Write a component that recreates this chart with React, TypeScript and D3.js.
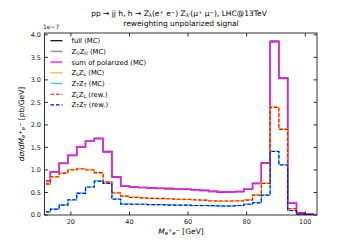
import * as d3 from "d3";

const EDGES = [11.5, 13, 16, 19, 22, 25, 28, 31, 34, 37, 40, 43, 46, 49, 52, 55, 58, 61, 64, 67, 70, 73, 76, 79, 82, 85, 88, 91, 94, 97, 100, 103];

const FULL = [0.75, 0.96, 1.15, 1.32, 1.51, 1.65, 1.7, 1.4, 0.84, 0.64, 0.62, 0.61, 0.6, 0.59, 0.58, 0.58, 0.57, 0.56, 0.54, 0.52, 0.51, 0.51, 0.52, 0.57, 0.7, 1.16, 3.86, 3.05, 0.27, 0.05, 0.02];
const UNPOL = [0.74, 0.95, 1.15, 1.33, 1.52, 1.65, 1.7, 1.41, 0.85, 0.65, 0.62, 0.61, 0.6, 0.59, 0.59, 0.58, 0.57, 0.56, 0.55, 0.53, 0.52, 0.51, 0.52, 0.57, 0.7, 1.15, 3.85, 3.04, 0.27, 0.05, 0.02];
const SUM_POL = [0.76, 0.96, 1.14, 1.33, 1.51, 1.64, 1.69, 1.41, 0.85, 0.64, 0.62, 0.61, 0.6, 0.59, 0.59, 0.58, 0.57, 0.56, 0.55, 0.53, 0.51, 0.51, 0.52, 0.57, 0.7, 1.15, 3.84, 3.03, 0.26, 0.05, 0.02];
const LL_MC = [0.68, 0.84, 0.93, 1.01, 1.03, 1.01, 0.93, 0.74, 0.5, 0.42, 0.4, 0.38, 0.37, 0.36, 0.36, 0.35, 0.34, 0.33, 0.33, 0.32, 0.31, 0.31, 0.32, 0.34, 0.45, 0.71, 2.4, 1.91, 0.14, 0.03, 0.01];
const TT_MC = [0.07, 0.13, 0.23, 0.33, 0.49, 0.62, 0.76, 0.71, 0.36, 0.25, 0.24, 0.24, 0.23, 0.23, 0.23, 0.22, 0.22, 0.21, 0.21, 0.2, 0.2, 0.2, 0.21, 0.24, 0.28, 0.45, 1.42, 1.12, 0.1, 0.02, 0.01];
const LL_REW = [0.69, 0.85, 0.93, 1.0, 1.02, 1.0, 0.94, 0.73, 0.49, 0.42, 0.39, 0.38, 0.37, 0.37, 0.36, 0.35, 0.35, 0.34, 0.33, 0.31, 0.31, 0.31, 0.31, 0.33, 0.44, 0.7, 2.39, 1.9, 0.14, 0.03, 0.01];
const TT_REW = [0.07, 0.13, 0.22, 0.34, 0.48, 0.62, 0.75, 0.7, 0.35, 0.24, 0.24, 0.24, 0.23, 0.23, 0.22, 0.22, 0.22, 0.21, 0.21, 0.21, 0.2, 0.2, 0.21, 0.24, 0.27, 0.44, 1.41, 1.11, 0.1, 0.02, 0.01];

const X_TICKS = [20, 40, 60, 80, 100];
const Y_TICKS = [0, 0.5, 1, 1.5, 2, 2.5, 3, 3.5, 4];

type Seg = { t: string; sub?: boolean; sup?: boolean; it?: boolean };

const SERIES: { name: Seg[]; values: number[]; color: string; width: number; dash?: string; opacity?: number }[] = [
  { name: [{ t: "full (MC)" }], values: FULL, color: "#000", width: 1.2 },
  { name: [{ t: "Z" }, { t: "U", sub: true }, { t: "Z" }, { t: "U", sub: true }, { t: " (MC)" }], values: UNPOL, color: "#999", width: 1.6 },
  { name: [{ t: "sum of polarized (MC)" }], values: SUM_POL, color: "#ff00ff", width: 1.4, opacity: 0.9 },
  { name: [{ t: "Z" }, { t: "L", sub: true }, { t: "Z" }, { t: "L", sub: true }, { t: " (MC)" }], values: LL_MC, color: "#ffa500", width: 1.3, opacity: 0.8 },
  { name: [{ t: "Z" }, { t: "T", sub: true }, { t: "Z" }, { t: "T", sub: true }, { t: " (MC)" }], values: TT_MC, color: "#00bfff", width: 1.3, opacity: 0.8 },
  { name: [{ t: "Z" }, { t: "L", sub: true }, { t: "Z" }, { t: "L", sub: true }, { t: " (rew.)" }], values: LL_REW, color: "#ff0000", width: 1.1, dash: "3.5,2" },
  { name: [{ t: "Z" }, { t: "T", sub: true }, { t: "Z" }, { t: "T", sub: true }, { t: " (rew.)" }], values: TT_REW, color: "#0000ff", width: 1.1, dash: "3.5,2" },
];

const FONT = "DejaVu Sans, sans-serif";

function MathText({ segs, size }: { segs: Seg[]; size: number }) {
  return (
    <>
      {segs.map((s, i) => (
        <tspan
          key={i}
          fontSize={s.sub || s.sup ? size * 0.7 : size}
          fontStyle={s.it ? "italic" : "normal"}
          baselineShift={s.sub ? "-25%" : s.sup ? "45%" : undefined}
        >
          {s.t}
        </tspan>
      ))}
    </>
  );
}

export default function App() {
  const W = 352, H = 242;
  const left = 44.5, right = 317, top = 33, bottom = 215;
  const x = d3.scaleLinear().domain([11, 104]).range([left, right]);
  const y = d3.scaleLinear().domain([0, 4.04]).range([bottom, top]);

  const line = d3
    .line<[number, number]>()
    .x((d) => x(d[0]))
    .y((d) => y(d[1]))
    .curve(d3.curveStepAfter);

  const stepPath = (vals: number[]) => {
    const pts: [number, number][] = vals.map((v, i) => [EDGES[i], v]);
    pts.push([EDGES[EDGES.length - 1], vals[vals.length - 1]]);
    return line(pts) ?? "";
  };

  const tick = 3.5;
  const legX = 50.5, legY = 40.7, legStep = 10.7;

  return (
    <div style={{ position: "absolute", left: 0, top: 0 }}>
      <svg width={W} height={H} style={{ display: "block", background: "#fff" }} fontFamily={FONT}>
        <defs>
          <clipPath id="plot">
            <rect x={left} y={top} width={right - left} height={bottom - top} />
          </clipPath>
        </defs>

        <g clipPath="url(#plot)">
          {SERIES.map((s, i) => (
            <path
              key={i}
              d={stepPath(s.values)}
              fill="none"
              stroke={s.color}
              strokeWidth={s.width}
              strokeDasharray={s.dash}
              strokeOpacity={s.opacity ?? 1}
            />
          ))}
        </g>

        {/* frame */}
        <rect x={left} y={top} width={right - left} height={bottom - top} fill="none" stroke="#000" strokeWidth={0.8} />

        {X_TICKS.map((t) => (
          <g key={t}>
            <line x1={x(t)} x2={x(t)} y1={bottom} y2={bottom - tick} stroke="#000" strokeWidth={0.8} />
            <line x1={x(t)} x2={x(t)} y1={top} y2={top + tick} stroke="#000" strokeWidth={0.8} />
            <text x={x(t)} y={224} textAnchor="middle" fontSize={6.5} fill="#222">
              {t}
            </text>
          </g>
        ))}
        {Y_TICKS.map((t) => (
          <g key={t}>
            <line x1={left} x2={left + tick} y1={y(t)} y2={y(t)} stroke="#000" strokeWidth={0.8} />
            <line x1={right} x2={right - tick} y1={y(t)} y2={y(t)} stroke="#000" strokeWidth={0.8} />
            <text x={41} y={y(t) + 2.3} textAnchor="end" fontSize={6.5} fill="#222">
              {t.toFixed(1)}
            </text>
          </g>
        ))}
        <text x={43} y={29} fontSize={6} fill="#222">
          1e−7
        </text>

        {/* titles */}
        <text x={179} y={16} textAnchor="middle" fontSize={7.5} fill="#000">
          <MathText
            size={7.5}
            segs={[
              { t: "pp → jj h, h → Z" },
              { t: "λ", sub: true },
              { t: "(e" },
              { t: "+", sup: true },
              { t: " e" },
              { t: "−", sup: true },
              { t: ") Z" },
              { t: "λ'", sub: true },
              { t: "(μ" },
              { t: "+", sup: true },
              { t: " μ" },
              { t: "−", sup: true },
              { t: "), LHC@13TeV" },
            ]}
          />
        </text>
        <text x={181} y={26} textAnchor="middle" fontSize={7.5} fill="#000">
          reweighting unpolarized signal
        </text>

        {/* axis labels */}
        <text x={181} y={234} textAnchor="middle" fontSize={7.5} fill="#000">
          <MathText
            size={7.5}
            segs={[{ t: "M", it: true }, { t: "e", sub: true, it: true }, { t: "+", sup: true }, { t: "e", sub: true, it: true }, { t: "−", sup: true }, { t: " [GeV]" }]}
          />
        </text>
        <text transform={`translate(24,${(top + bottom) / 2}) rotate(-90)`} textAnchor="middle" fontSize={7.5} fill="#000">
          <MathText
            size={7.5}
            segs={[
              { t: "dσ/dM", it: true },
              { t: "e", sub: true, it: true },
              { t: "+", sup: true },
              { t: "e", sub: true, it: true },
              { t: "−", sup: true },
              { t: " [pb/GeV]" },
            ]}
          />
        </text>

        {/* legend */}
        {SERIES.map((s, i) => {
          const yy = legY + i * legStep;
          return (
            <g key={i}>
              <line x1={legX} x2={legX + 12} y1={yy} y2={yy} stroke={s.color} strokeWidth={s.width} strokeDasharray={s.dash} strokeOpacity={s.opacity ?? 1} />
              <text x={71.5} y={yy + 2.4} fontSize={6.8} fill="#000">
                <MathText size={6.8} segs={s.name} />
              </text>
            </g>
          );
        })}
      </svg>
    </div>
  );
}
